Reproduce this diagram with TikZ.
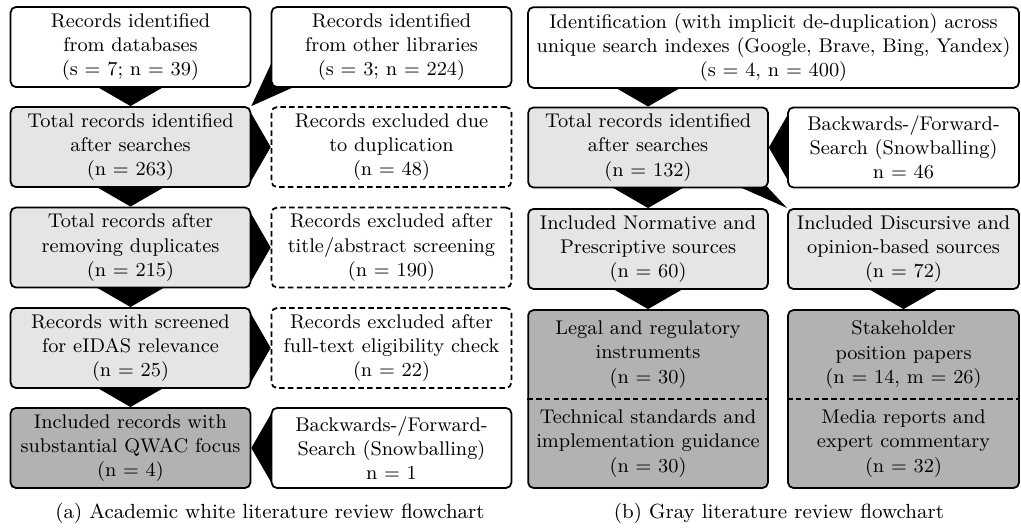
\documentclass[tikz,border=0pt]{standalone}
\usepackage{tikz}
\usetikzlibrary{calc, backgrounds}

\tikzset{
  box/.style={draw, thick, rounded corners=2.5pt, fill=white, align=center,
    font=\small, minimum width=3.83cm, minimum height=1.28cm, inner sep=1pt},
  midbox/.style={box, fill=black!10},
  finalbox/.style={box, fill=black!30},
  exclbox/.style={box, dash pattern=on 2.5pt off 1.5pt},
  txt/.style={align=center, font=\small, inner sep=1pt},
  captext/.style={font=\fontsize{9.3pt}{11pt}\selectfont, inner sep=1pt},
}
% wide black wedge from a source box into a target anchor
\newcommand{\flow}[2]{\fill (#1) -- ($(#1)!0.72cm!60:(#2)$) -- (#2) -- ($(#1)!0.72cm!-60:(#2)$) -- cycle;}

\begin{document}
\begin{tikzpicture}
  \useasboundingbox (0,0) rectangle (16.305,8.48);
  % (a) academic literature
  \node[box] (db) at (2.084,7.729) {Records identified\\from databases\\(s = 7; n = 39)};
  \node[box] (lib) at (6.252,7.729) {Records identified\\from other libraries\\(s = 3; n = 224)};
  \node[midbox] (tot) at (2.084,6.132) {Total records identified\\after searches\\(n = 263)};
  \node[exclbox] (dup) at (6.252,6.132) {Records excluded due\\to duplication\\(n = 48)};
  \node[midbox] (rem) at (2.084,4.527) {Total records after\\removing duplicates\\(n = 215)};
  \node[exclbox] (tas) at (6.252,4.527) {Records excluded after\\title/abstract screening\\(n = 190)};
  \node[midbox] (scr) at (2.084,2.923) {Records with screened\\for eIDAS relevance\\(n = 25)};
  \node[exclbox] (ft) at (6.252,2.923) {Records excluded after\\full-text eligibility check\\(n = 22)};
  \node[finalbox] (inc) at (2.084,1.326) {Included records with\\substantial QWAC focus\\(n = 4)};
  \node[box] (snow) at (6.252,1.326) {Backwards-/Forward-\\Search (Snowballing)\\n = 1};
  \node[captext] (capa) at (4.312,0.287) {(a) Academic white literature review flowchart};

  % (b) gray literature
  \node[box, minimum width=7.84cm, minimum height=1.29cm] (gid) at (12.353,7.721)
    {Identification (with implicit de-duplication) across\\unique search indexes (Google, Brave, Bing, Yandex)\\(s = 4, n = 400)};
  \node[midbox] (gtot) at (10.349,6.125) {Total records identified\\after searches\\(n = 132)};
  \node[box, minimum width=3.69cm] (gsnow) at (14.429,6.125) {Backwards-/Forward-\\Search (Snowballing)\\n = 46};
  \node[midbox] (gnorm) at (10.349,4.504) {Included Normative and\\Prescriptive sources\\(n = 60)};
  \node[midbox, minimum width=3.69cm] (gdisc) at (14.429,4.504) {Included Discursive and\\opinion-based sources\\(n = 72)};
  \node[finalbox, minimum height=2.843cm] (glegal) at (10.349,2.108) {};
  \node[finalbox, minimum width=3.69cm, minimum height=2.843cm] (gstake) at (14.429,2.108) {};
  \draw[thick, dash pattern=on 2.5pt off 1.5pt] (glegal.west) -- (glegal.east);
  \draw[thick, dash pattern=on 2.5pt off 1.5pt] (gstake.west) -- (gstake.east);
  \node[txt] (glegaltop) at (10.349,2.819) {Legal and regulatory\\instruments\\(n = 30)};
  \node[txt] (glegalbot) at (10.349,1.397) {Technical standards and\\implementation guidance\\(n = 30)};
  \node[txt] (gstaketop) at (14.429,2.819) {Stakeholder\\position papers\\(n = 14, m = 26)};
  \node[txt] (gstakebot) at (14.429,1.397) {Media reports and\\expert commentary\\(n = 32)};
  \node[captext] (capb) at (12.44,0.287) {(b) Gray literature review flowchart};

  \begin{scope}[on background layer]
    \flow{tot.north}{db.center}
    \fill (tot.north east) -- ([xshift=1.8pt,yshift=-4.1pt]lib.west) -- (lib.center)
      -- ([xshift=13.6pt,yshift=1.8pt]lib.south west) -- cycle;
    \flow{dup.west}{tot.center}
    \flow{rem.north}{tot.center}
    \flow{tas.west}{rem.center}
    \flow{scr.north}{rem.center}
    \flow{ft.west}{scr.center}
    \flow{inc.north}{scr.center}
    \flow{inc.east}{snow.center}

    \coordinate (gk) at (gtot.north |- gid.center);
    \flow{gtot.north}{gk}
    \flow{gtot.east}{gsnow.center}
    \flow{gnorm.north}{gtot.center}
    \fill (gdisc.north west) -- ([xshift=-1.2pt,yshift=1.2pt]gtot.south east) -- (gtot.center)
      -- ([xshift=-15pt,yshift=1.4pt]gtot.south east) -- cycle;
    \flow{glegal.north}{gnorm.center}
    \flow{gstake.north}{gdisc.center}
  \end{scope}
\end{tikzpicture}
\end{document}
